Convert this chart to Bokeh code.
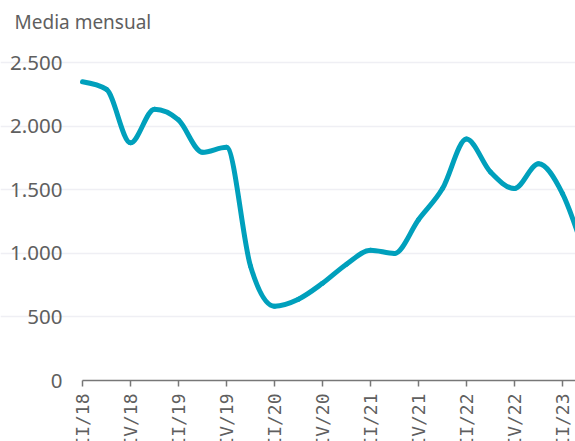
import numpy as np
from bokeh.plotting import figure
from bokeh.models import Range1d, FixedTicker, ColumnDataSource
from bokeh.embed import file_html
from bokeh.resources import INLINE

# ---- data (quarterly, index 0 = II/18) ----
quarters = ["II/18", "III/18", "IV/18", "I/19", "II/19", "III/19", "IV/19",
            "I/20", "II/20", "III/20", "IV/20", "I/21", "II/21", "III/21",
            "IV/21", "I/22", "II/22", "III/22", "IV/22", "I/23", "II/23", "III/23"]
values = [2350, 2290, 1870, 2135, 2050, 1795, 1835,
          900, 585, 640, 765, 915, 1025, 1000,
          1265, 1510, 1900, 1640, 1510, 1705, 1470, 950]
x_tick_idx = [0, 2, 4, 6, 8, 10, 12, 14, 16, 18, 20]
x_tick_labels = [quarters[i] for i in x_tick_idx]
y_ticks = [0, 500, 1000, 1500, 2000, 2500]
y_tick_labels = ["0", "500", "1.000", "1.500", "2.000", "2.500"]
y_title = "Media mensual"

LINE = "#00a0bc"
TXT = "#5f5f5f"
AXIS = "#777777"
GRID = "#efeff4"
FONT = "Noto Sans"

# frame geometry: whole canvas; value 0 sits 380px from the top,
# the first quarter 82px from the left, 24px per quarter
PXY = 319 / 2510.0
PXX = 24.0
x0_px, y0_px = 82, 380
W, H = 575, 441

x = np.arange(len(values), dtype=float)
y = np.array(values, dtype=float)

# monotone-x cubic tangents (as d3.curveMonotoneX)
n = len(x)
t = np.zeros(n)
for i in range(1, n - 1):
    h0 = x[i] - x[i - 1]
    h1 = x[i + 1] - x[i]
    s0 = (y[i] - y[i - 1]) / h0
    s1 = (y[i + 1] - y[i]) / h1
    pp = (s0 * h1 + s1 * h0) / (h0 + h1)
    sg = (-1 if s0 < 0 else 1) + (-1 if s1 < 0 else 1)
    t[i] = sg * min(abs(s0), abs(s1), 0.5 * abs(pp))
t[0] = (3 * (y[1] - y[0]) / (x[1] - x[0]) - t[1]) / 2
t[-1] = (3 * (y[-1] - y[-2]) / (x[-1] - x[-2]) - t[-2]) / 2
h = x[1:] - x[:-1]

p = figure(width=W, height=H, output_backend="svg", toolbar_location=None,
           x_range=Range1d(-x0_px / PXX, (W - x0_px) / PXX),
           y_range=Range1d(-(H - y0_px) / PXY, y0_px / PXY),
           x_axis_location=None, y_axis_location=None)
p.min_border_left = 0
p.min_border_right = 0
p.min_border_top = 0
p.min_border_bottom = 0
p.outline_line_color = None
p.background_fill_color = "white"
p.border_fill_color = "white"

p.xgrid.visible = False
p.ygrid.ticker = FixedTicker(ticks=y_ticks[1:])
p.ygrid.bounds = (0, len(values))
p.ygrid.grid_line_color = GRID
p.ygrid.grid_line_width = 1.5

# title
p.text(x=[-68 / PXX], y=[(y0_px - 21) / PXY], text=[y_title],
       text_align="left", text_baseline="middle",
       text_font={"value": FONT}, text_font_size={"value": "19px"},
       text_color=TXT)

# y axis labels
ysrc = ColumnDataSource(dict(y=y_ticks, lab=y_tick_labels, x=[0] * len(y_ticks)))
p.text(x="x", y="y", text="lab", source=ysrc, x_offset=-20,
       text_align="right", text_baseline="middle",
       text_font={"value": FONT}, text_font_size={"value": "20.5px"},
       text_color=TXT)

# x axis: line, ticks and rotated labels (cut by the bottom edge as in the original)
p.segment(x0=[x_tick_idx[0]], y0=[0], x1=[len(values)], y1=[0],
          line_color=AXIS, line_width=1.5)
tick_src = ColumnDataSource(dict(x=x_tick_idx, lab=x_tick_labels,
                                 y0=[0] * len(x_tick_idx),
                                 y1=[-6 / PXY] * len(x_tick_idx),
                                 yl=[-13 / PXY] * len(x_tick_idx)))
p.segment(x0="x", y0="y0", x1="x", y1="y1", source=tick_src,
          line_color=AXIS, line_width=1.5)
p.text(x="x", y="yl", text="lab", source=tick_src, angle=np.pi / 2,
       text_align="right", text_baseline="middle",
       text_font={"value": "DejaVu Sans Mono"}, text_font_size={"value": "18px"},
       text_color=TXT)

p.bezier(x0=x[:-1], y0=y[:-1], x1=x[1:], y1=y[1:],
         cx0=x[:-1] + h / 3, cy0=y[:-1] + h * t[:-1] / 3,
         cx1=x[1:] - h / 3, cy1=y[1:] - h * t[1:] / 3,
         line_color=LINE, line_width=5, line_cap="round")

open("out.html", "w").write(file_html(p, INLINE))
